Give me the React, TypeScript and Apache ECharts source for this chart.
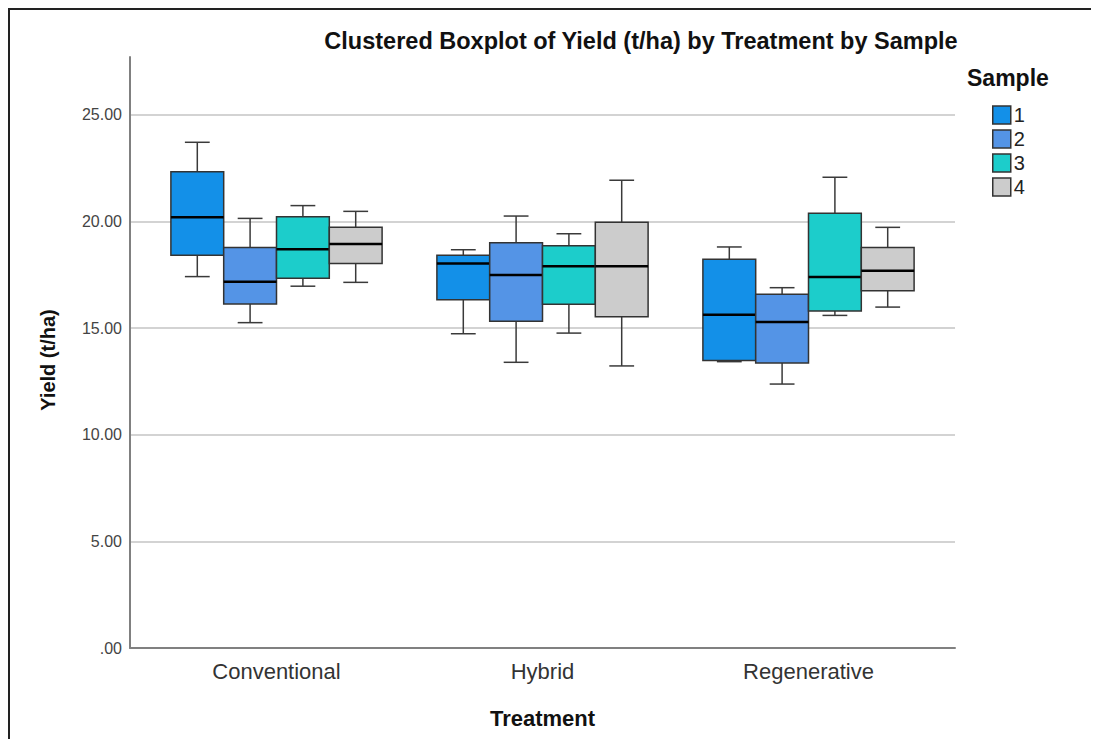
import React, { useEffect, useRef } from "react";
import * as echarts from "echarts";

const categories = ["Conventional", "Hybrid", "Regenerative"];
const sampleNames = ["1", "2", "3", "4"];
// [min whisker, Q1, median, Q3, max whisker] per treatment
const sample1 = [
  [17.42, 18.42, 20.2, 22.34, 23.72],
  [14.74, 16.34, 18.04, 18.42, 18.68],
  [13.43, 13.49, 15.63, 18.23, 18.81],
];
const sample2 = [
  [15.26, 16.13, 17.18, 18.79, 20.15],
  [13.4, 15.32, 17.5, 19.01, 20.26],
  [12.38, 13.37, 15.29, 16.59, 16.9],
];
const sample3 = [
  [16.97, 17.34, 18.7, 20.23, 20.75],
  [14.77, 16.12, 17.9, 18.87, 19.43],
  [15.6, 15.81, 17.4, 20.39, 22.08],
];
const sample4 = [
  [17.15, 18.04, 18.95, 19.73, 20.48],
  [13.23, 15.54, 17.9, 19.97, 21.94],
  [15.99, 16.76, 17.7, 18.79, 19.73],
];
const samples = [sample1, sample2, sample3, sample4];
const colors = ["#1390e8", "#5494e6", "#1ccdcb", "#cccccc"];

const FONT = "'Liberation Sans', Arial, sans-serif";

export default function App() {
  const ref = useRef<HTMLDivElement>(null);
  useEffect(() => {
    if (!ref.current) return;
    const chart = echarts.init(ref.current, undefined, { renderer: "svg" });
    const W = 1091;
    const H = 731;
    const yMax = 27.72;
    const boxFrac = 0.1985;
    const capFrac = 0.47;

    const series = samples.map((s, sIdx) => ({
      type: "custom",
      name: sampleNames[sIdx],
      xAxisIndex: 1,
      yAxisIndex: 1,
      itemStyle: { color: colors[sIdx], borderColor: "#333", borderWidth: 1.5 },
      encode: { x: 0, y: [1, 2, 3, 4, 5] },
      data: s.map((v, i) => [i, ...v]),
      renderItem: (params: any, api: any) => {
        const cat = api.value(0);
        const lo = api.value(1);
        const q1 = api.value(2);
        const med = api.value(3);
        const q3 = api.value(4);
        const hi = api.value(5);
        const band = api.size([1, 0])[0];
        const bw = band * boxFrac;
        const cw = bw * capFrac;
        const cx = api.coord([cat, med])[0] + (sIdx - 1.5) * bw;
        const yLo = api.coord([cat, lo])[1];
        const yQ1 = api.coord([cat, q1])[1];
        const yMed = api.coord([cat, med])[1];
        const yQ3 = api.coord([cat, q3])[1];
        const yHi = api.coord([cat, hi])[1];
        const wStyle = { stroke: "#3a3a3a", lineWidth: 1.5 };
        return {
          type: "group",
          children: [
            { type: "line", shape: { x1: cx, y1: yHi, x2: cx, y2: yQ3 }, style: wStyle },
            { type: "line", shape: { x1: cx - cw / 2, y1: yHi, x2: cx + cw / 2, y2: yHi }, style: wStyle },
            { type: "line", shape: { x1: cx, y1: yQ1, x2: cx, y2: yLo }, style: wStyle },
            { type: "line", shape: { x1: cx - cw / 2, y1: yLo, x2: cx + cw / 2, y2: yLo }, style: wStyle },
            {
              type: "rect",
              shape: { x: cx - bw / 2, y: yQ3, width: bw, height: yQ1 - yQ3 },
              style: { fill: colors[sIdx], stroke: "#333", lineWidth: 1.5 },
            },
            {
              type: "line",
              shape: { x1: cx - bw / 2, y1: yMed, x2: cx + bw / 2, y2: yMed },
              style: { stroke: "#000", lineWidth: 2.5 },
            },
          ],
        };
      },
    }));

    chart.setOption({
      animation: false,
      backgroundColor: "#fff",
      textStyle: { fontFamily: FONT },
      title: {
        text: "Clustered Boxplot of Yield (t/ha) by Treatment by Sample",
        left: 628,
        top: 16,
        textAlign: "center",
        textStyle: { fontSize: 23.5, fontWeight: "bold", color: "#111", fontFamily: FONT },
      },
      legend: {
        orient: "vertical",
        left: 979,
        top: 92,
        icon: "rect",
        itemWidth: 18,
        itemHeight: 18,
        itemGap: 4,
        data: sampleNames.map((n, i) => ({
          name: n,
          itemStyle: { color: colors[i], borderColor: "#333", borderWidth: 1.5 },
        })),
        textStyle: { fontSize: 20, color: "#222", fontFamily: FONT, padding: [0, 0, 0, -2] },
        selectedMode: false,
      },
      graphic: [
        { type: "line", shape: { x1: 0, y1: 1, x2: W, y2: 1 }, style: { stroke: "#222", lineWidth: 2 } },
        { type: "line", shape: { x1: 1, y1: 0, x2: 1, y2: H }, style: { stroke: "#222", lineWidth: 2 } },
        {
          type: "text",
          x: 959,
          y: 70,
          style: {
            text: "Sample",
            font: `bold 23px ${FONT}`,
            fill: "#111",
            textAlign: "left",
            textVerticalAlign: "middle",
          },
        },
        {
          type: "text",
          x: 40,
          y: 352,
          rotation: Math.PI / 2,
          style: {
            text: "Yield (t/ha)",
            font: `bold 20px ${FONT}`,
            fill: "#111",
            textAlign: "center",
            textVerticalAlign: "middle",
          },
        },
      ],
      grid: [
        { left: 122, right: W - 947, top: 49, bottom: H - 640 },
        { left: 135.5, right: W - 933.5, top: 49, bottom: H - 640 },
      ],
      xAxis: [
        {
          type: "category",
          gridIndex: 0,
          data: categories,
          axisLine: { show: true, lineStyle: { color: "#808080", width: 2 } },
          axisTick: { show: false },
          axisLabel: { show: false },
          splitLine: { show: false },
        },
        {
          type: "category",
          gridIndex: 1,
          data: categories,
          axisLine: { show: false },
          axisTick: { show: false },
          axisLabel: { show: true, fontSize: 22, color: "#333", margin: 12, fontFamily: FONT },
          name: "Treatment",
          nameLocation: "middle",
          nameGap: 59,
          nameTextStyle: { fontSize: 22, fontWeight: "bold", color: "#111", fontFamily: FONT },
        },
      ],
      yAxis: [
        {
          type: "value",
          gridIndex: 0,
          min: 0,
          max: yMax,
          interval: 5,
          axisLine: { show: true, lineStyle: { color: "#808080", width: 2 } },
          axisTick: { show: false },
          axisLabel: {
            fontSize: 16,
            color: "#444",
            margin: 8,
            fontFamily: FONT,
            showMaxLabel: false,
            formatter: (v: number) => (Math.abs(v % 5) > 1e-6 ? "" : v === 0 ? ".00" : v.toFixed(2)),
          },
          splitLine: {
            show: true,
            showMinLine: false,
            showMaxLine: false,
            lineStyle: { color: "#d3d3d3", width: 2 },
          },
        },
        {
          type: "value",
          gridIndex: 1,
          min: 0,
          max: yMax,
          interval: 5,
          axisLine: { show: false },
          axisTick: { show: false },
          axisLabel: { show: false },
          splitLine: { show: false },
        },
      ],
      series,
    });
    return () => chart.dispose();
  }, []);
  return <div ref={ref} style={{ width: 1091, height: 731 }} />;
}
